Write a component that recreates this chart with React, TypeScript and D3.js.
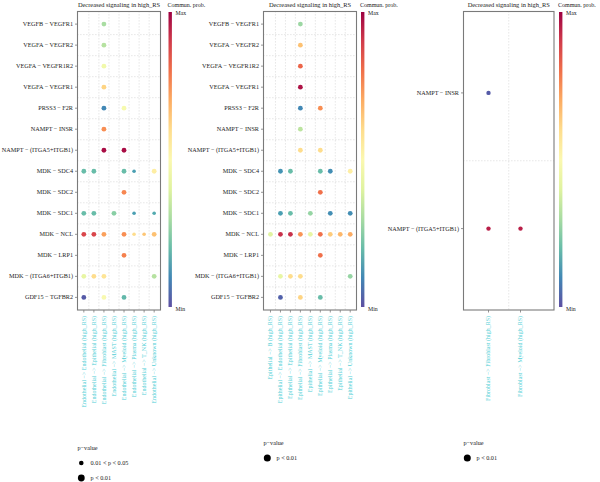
import React from 'react';
import * as d3 from 'd3';

// ---------- data ----------
const pairsMain = [
  'VEGFB − VEGFR1',
  'VEGFA − VEGFR2',
  'VEGFA − VEGFR1R2',
  'VEGFA − VEGFR1',
  'PRSS3 − F2R',
  'NAMPT − INSR',
  'NAMPT − (ITGA5+ITGB1)',
  'MDK − SDC4',
  'MDK − SDC2',
  'MDK − SDC1',
  'MDK − NCL',
  'MDK − LRP1',
  'MDK − (ITGA6+ITGB1)',
  'GDF15 − TGFBR2',
];

const endoTargets = [
  'Endothelial −> Endothelial (high_RS)',
  'Endothelial −> Epithelial (high_RS)',
  'Endothelial −> Fibroblast (high_RS)',
  'Endothelial −> MAST (high_RS)',
  'Endothelial −> Myeloid (high_RS)',
  'Endothelial −> Plasma (high_RS)',
  'Endothelial −> T_NK (high_RS)',
  'Endothelial −> Unknown (high_RS)',
];

const epiTargets = [
  'Epithelial −> B (high_RS)',
  'Epithelial −> Endothelial (high_RS)',
  'Epithelial −> Epithelial (high_RS)',
  'Epithelial −> Fibroblast (high_RS)',
  'Epithelial −> MAST (high_RS)',
  'Epithelial −> Myeloid (high_RS)',
  'Epithelial −> Plasma (high_RS)',
  'Epithelial −> T_NK (high_RS)',
  'Epithelial −> Unknown (high_RS)',
];

const fibPairs = ['NAMPT − INSR', 'NAMPT − (ITGA5+ITGB1)'];
const fibTargets = ['Fibroblast −> Fibroblast (high_RS)', 'Fibroblast −> Myeloid (high_RS)'];

// [pair index, target index, scaled communication probability, p-value class (1: p<0.01, 2: 0.01<p<0.05)]
const endoProb: [number, number, number, number][] = [
  [0, 2, 0.3, 1],
  [1, 2, 0.32, 1],
  [2, 2, 0.45, 1],
  [3, 2, 0.62, 1],
  [4, 2, 0.1, 1], [4, 4, 0.47, 1],
  [5, 2, 0.75, 1],
  [6, 2, 0.98, 1], [6, 4, 0.98, 1],
  [7, 0, 0.2, 1], [7, 1, 0.2, 1], [7, 4, 0.2, 1], [7, 5, 0.14, 2], [7, 7, 0.55, 1],
  [8, 4, 0.76, 1],
  [9, 0, 0.2, 1], [9, 1, 0.2, 1], [9, 3, 0.25, 1], [9, 5, 0.14, 2], [9, 7, 0.16, 2],
  [10, 0, 0.88, 1], [10, 1, 0.88, 1], [10, 2, 0.72, 1], [10, 4, 0.75, 1], [10, 5, 0.6, 2], [10, 6, 0.65, 2], [10, 7, 0.66, 1],
  [11, 4, 0.77, 1],
  [12, 0, 0.42, 1], [12, 1, 0.6, 1], [12, 2, 0.58, 1], [12, 7, 0.32, 1],
  [13, 0, 0.02, 1], [13, 2, 0.48, 1], [13, 4, 0.19, 1],
];

const epiProb: [number, number, number, number][] = [
  [0, 3, 0.28, 1],
  [1, 3, 0.66, 1],
  [2, 3, 0.82, 1],
  [3, 3, 0.97, 1],
  [4, 3, 0.1, 1], [4, 5, 0.75, 1],
  [5, 3, 0.33, 1],
  [6, 3, 0.6, 1], [6, 5, 0.6, 1],
  [7, 1, 0.12, 1], [7, 2, 0.2, 1], [7, 5, 0.2, 1], [7, 6, 0.11, 1], [7, 8, 0.55, 1],
  [8, 5, 0.8, 1],
  [9, 1, 0.14, 1], [9, 2, 0.2, 1], [9, 4, 0.27, 1], [9, 6, 0.11, 1], [9, 8, 0.11, 1],
  [10, 0, 0.4, 1], [10, 1, 0.92, 1], [10, 2, 0.92, 1], [10, 3, 0.74, 1], [10, 4, 0.42, 1],
  [10, 5, 0.8, 1], [10, 6, 0.64, 1], [10, 7, 0.68, 1], [10, 8, 0.7, 1],
  [11, 5, 0.8, 1],
  [12, 1, 0.42, 1], [12, 2, 0.6, 1], [12, 3, 0.6, 1], [12, 8, 0.27, 1],
  [13, 1, 0.03, 1], [13, 3, 0.62, 1], [13, 5, 0.2, 1],
];

const fibProb: [number, number, number, number][] = [
  [0, 0, 0.02, 1],
  [1, 0, 0.95, 1], [1, 1, 0.95, 1],
];

const panelTitle = 'Decreased signaling in high_RS';
const legendTitle = 'p−value';
const pLabels = ['p < 0.01', '0.01 < p < 0.05'];

// ---------- styling ----------
const FONT = "'Liberation Serif', 'DejaVu Serif', serif";
const CYAN = '#52CFD6';
const TEXT = '#222';
const FRAME = '#7a7a7a';
const GRID = '#b0b0b0';
const TOP = 11.5;
const BOTTOM = 310;

const probColor = (v: number) => d3.interpolateSpectral(1 - v);

type PanelProps = {
  id: string;
  pairs: string[];
  targets: string[];
  values: [number, number, number, number][];
  frameX: [number, number];
  pointX: [number, number];
  barX: number;
  legendY: number;
  legendClasses: number[];
  legendR: Record<number, number>;
  dotR: Record<number, number>;
};

function Panel(p: PanelProps) {
  const [fx0, fx1] = p.frameX;
  const x = d3.scalePoint<string>().domain(p.targets).range(p.pointX).padding(0.6);
  const y = d3.scalePoint<string>().domain(p.pairs).range([TOP, BOTTOM]).padding(0.6);

  const xs = p.targets.map((t) => x(t) as number);
  const ys = p.pairs.map((r) => y(r) as number);
  const vLines =
    xs.length > 1
      ? xs.slice(1).map((v, i) => (p.targets.length === 2 ? (fx0 + fx1) / 2 : (v + xs[i]) / 2))
      : [];
  const hLines = ys.slice(1).map((v, i) => (v + ys[i]) / 2);

  const barTop = 12;
  const barBottom = 307;
  const gradId = `grad-${p.id}`;
  const stops = d3.range(0, 1.0001, 0.1);

  return (
    <g>
      <defs>
        <linearGradient id={gradId} x1="0" y1="0" x2="0" y2="1">
          {stops.map((s) => (
            <stop key={s} offset={s} stopColor={probColor(1 - s)} />
          ))}
        </linearGradient>
      </defs>

      {/* title */}
      <text x={(fx0 + fx1) / 2} y={6.5} textAnchor="middle" fontSize={6.4} fill={TEXT}>
        {panelTitle}
      </text>

      {/* dotted grid */}
      {vLines.map((v, i) => (
        <line key={`v${i}`} x1={v} x2={v} y1={TOP} y2={BOTTOM} stroke={GRID} strokeWidth={0.6} strokeDasharray="0.8 2.2" />
      ))}
      {hLines.map((v, i) => (
        <line key={`h${i}`} x1={fx0} x2={fx1} y1={v} y2={v} stroke={GRID} strokeWidth={0.6} strokeDasharray="0.8 2.2" />
      ))}

      {/* bubbles */}
      {p.values.map(([ri, ci, prob, cls], i) => (
        <circle key={i} cx={xs[ci]} cy={ys[ri]} r={p.dotR[cls]} fill={probColor(prob)} />
      ))}

      {/* frame */}
      <rect x={fx0} y={TOP} width={fx1 - fx0} height={BOTTOM - TOP} fill="none" stroke={FRAME} strokeWidth={1.1} />

      {/* y axis */}
      {p.pairs.map((r, i) => (
        <g key={r}>
          <line x1={fx0 - 2.5} x2={fx0} y1={ys[i]} y2={ys[i]} stroke={FRAME} strokeWidth={0.8} />
          <text x={fx0 - 4.5} y={ys[i]} dy="0.33em" textAnchor="end" fontSize={6.2} fill={TEXT}>
            {r}
          </text>
        </g>
      ))}

      {/* x axis */}
      {p.targets.map((t, i) => (
        <g key={t}>
          <line x1={xs[i]} x2={xs[i]} y1={BOTTOM} y2={BOTTOM + 2.5} stroke={FRAME} strokeWidth={0.8} />
          <text
            transform={`translate(${xs[i]},${BOTTOM + 6}) rotate(-90)`}
            dy="0.33em"
            textAnchor="end"
            fontSize={6}
            fill={CYAN}
          >
            {t}
          </text>
        </g>
      ))}

      {/* colour bar */}
      <text x={p.barX - 1} y={6.5} fontSize={6} fill={TEXT}>
        Commun. prob.
      </text>
      <rect x={p.barX} y={barTop} width={3.4} height={barBottom - barTop} fill={`url(#${gradId})`} />
      <text x={p.barX + 7} y={barTop + 1} dy="0.33em" fontSize={5.8} fill={TEXT}>
        Max
      </text>
      <text x={p.barX + 7} y={barBottom + 2} dy="0.33em" fontSize={5.8} fill={TEXT}>
        Min
      </text>

      {/* p-value legend */}
      <text x={fx0} y={p.legendY} dy="0.33em" fontSize={6.2} fill={TEXT}>
        {legendTitle}
      </text>
      {p.legendClasses.map((cls, i) => {
        const cy = p.legendY + 15 + i * 15;
        return (
          <g key={cls}>
            <circle cx={fx0 + 3.8} cy={cy} r={p.legendR[cls]} fill="#000" />
            <text x={fx0 + 13} y={cy} dy="0.33em" fontSize={6.2} fill={TEXT}>
              {pLabels[cls - 1]}
            </text>
          </g>
        );
      })}
    </g>
  );
}

export default function App() {
  return (
    <svg
      width={600}
      height={482}
      viewBox="0 0 600 482"
      style={{ display: 'block', position: 'absolute', left: 0, top: 0, background: '#fff' }}
      fontFamily={FONT}
    >
      <rect width={600} height={482} fill="#fff" />
      <Panel
        id="endo"
        pairs={pairsMain}
        targets={endoTargets}
        values={endoProb}
        frameX={[77.5, 160.5]}
        pointX={[77.8, 160.2]}
        barX={168.5}
        legendY={448}
        legendClasses={[2, 1]}
        legendR={{ 1: 3.4, 2: 2.3 }}
        dotR={{ 1: 2.4, 2: 1.8 }}
      />
      <Panel
        id="epi"
        pairs={pairsMain}
        targets={epiTargets}
        values={epiProb}
        frameX={[263.5, 356.5]}
        pointX={[264.5, 356.2]}
        barX={361}
        legendY={443}
        legendClasses={[1]}
        legendR={{ 1: 3.5 }}
        dotR={{ 1: 2.4 }}
      />
      <Panel
        id="fib"
        pairs={fibPairs}
        targets={fibTargets}
        values={fibProb}
        frameX={[463.5, 554]}
        pointX={[469.3, 539.7]}
        barX={559}
        legendY={443}
        legendClasses={[1]}
        legendR={{ 1: 3.5 }}
        dotR={{ 1: 2.2 }}
      />
    </svg>
  );
}
